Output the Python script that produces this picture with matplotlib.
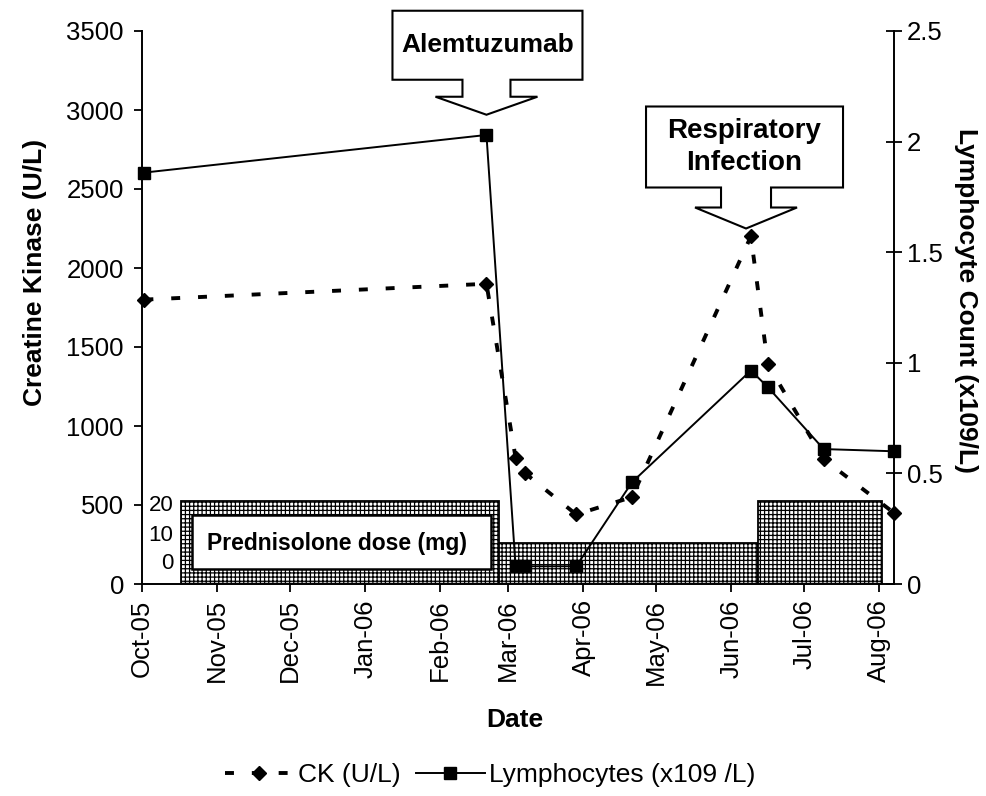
import matplotlib
matplotlib.use("Agg")
import matplotlib.pyplot as plt
import matplotlib.dates as mdates
import matplotlib.transforms as mtransforms
from matplotlib.patches import Polygon, Rectangle
from matplotlib.lines import Line2D
import numpy as np

plt.rcParams['font.family'] = ['Liberation Sans', 'DejaVu Sans']
plt.rcParams['hatch.linewidth'] = 0.9

# ---------------- data ----------------
dates = np.array(['2005-10-02', '2006-02-20', '2006-03-04', '2006-03-08', '2006-03-29',
                  '2006-04-21', '2006-06-09', '2006-06-16', '2006-07-09', '2006-08-07'],
                 dtype='datetime64[D]')
ck_values = [1800, 1900, 800, 700, 440, 550, 2200, 1390, 790, 450]
lymph_values = [1.86, 2.03, 0.08, 0.08, 0.08, 0.46, 0.965, 0.89, 0.61, 0.60]

pred_start = np.array(['2005-10-17', '2006-02-25', '2006-06-12'], dtype='datetime64[D]')
pred_end = np.array(['2006-02-25', '2006-06-12', '2006-08-02'], dtype='datetime64[D]')
pred_dose = [20, 10, 20]

event_labels = ['Alemtuzumab', 'Respiratory\nInfection']
event_dates = np.array(['2006-02-20', '2006-06-07'], dtype='datetime64[D]')
event_ck = [2970, 2250]

ck_ticks = list(range(0, 3501, 500))
lymph_ticks = [0, 0.5, 1, 1.5, 2, 2.5]
lymph_ticklabels = ['0', '0.5', '1', '1.5', '2', '2.5']
month_ticks = np.array(['2005-10-01', '2005-11-01', '2005-12-01', '2006-01-01', '2006-02-01',
                        '2006-03-01', '2006-04-01', '2006-05-01', '2006-06-01', '2006-07-01',
                        '2006-08-01'], dtype='datetime64[D]')
x_range = np.array(['2005-10-01', '2006-08-07'], dtype='datetime64[D]')

# ---------------- figure ----------------
W, H = 987, 796
fig = plt.figure(figsize=(W / 100, H / 100), dpi=100)
fig.patch.set_facecolor('white')

ax_l, ax_r, ax_t, ax_b = 142, 894, 31, 584
rect = [ax_l / W, (H - ax_b) / H, (ax_r - ax_l) / W, (ax_b - ax_t) / H]

xnum = mdates.date2num(dates)
xlim = mdates.date2num(x_range)

# Prednisolone inset (behind)
ax_p = fig.add_axes([ax_l / W, (H - ax_b) / H, (ax_r - ax_l) / W, 90 / H])
ax_p.set_zorder(0)
ax_p.patch.set_visible(False)
ps = mdates.date2num(pred_start)
pe = mdates.date2num(pred_end)
ax_p.bar(ps, pred_dose, width=pe - ps, align='edge', facecolor='white',
         edgecolor='black', hatch='++++', linewidth=1.3)
ax_p.plot([ps[0], pe[-1]], [0, 0], color='black', lw=2.5, solid_capstyle='butt')
ax_p.set_xlim(*xlim)
ax_p.set_ylim(0, 20 * 90 / 83)
ax_p.axis('off')
# white label box inside first bar
ax_p.add_patch(Rectangle((ps[0] + 4.5, 3.6), (pe[0] - ps[0]) - 7.5, 13.0,
                         facecolor='white', edgecolor='black', lw=1.8, zorder=3))
ax_p.text((ps[0] + pe[0]) / 2 - 1, 9.8, 'Prednisolone dose (mg)', ha='center', va='center',
          fontsize=16.5, fontweight='bold', zorder=4)
for lab, yy in zip(['20', '10', '0'], [19.0, 11.8, 5.0]):
    ax_p.text(ps[0] - 3, yy, lab, ha='right', va='center', fontsize=16)

# main axes
ax = fig.add_axes(rect)
ax.set_zorder(1)
ax.patch.set_visible(False)
ax.plot(xnum, ck_values, color='black', lw=2.8, linestyle=(0, (2.3, 4.6)),
        dash_capstyle='butt', marker='D', markersize=7.5, markerfacecolor='black',
        markeredgecolor='black', clip_on=False, zorder=3)
ax.set_xlim(*xlim)
ax.set_ylim(0, 3500)
ax.set_yticks(ck_ticks)
ax.set_xticks(mdates.date2num(month_ticks))
ax.xaxis.set_major_formatter(mdates.DateFormatter('%b-%y'))
ax.tick_params(axis='x', labelrotation=90, labelsize=18.5, length=6, width=1.3, pad=5)
ax.tick_params(axis='y', labelsize=18.5, length=6, width=1.3, pad=7)
ax.spines['top'].set_visible(False)
ax.spines['right'].set_visible(False)
for s in ['left', 'bottom']:
    ax.spines[s].set_linewidth(1.4)

ax2 = ax.twinx()
ax2.set_zorder(2)
ax2.patch.set_visible(False)
ax2.plot(xnum, lymph_values, color='black', lw=1.4, marker='s', markersize=9,
         markerfacecolor='black', markeredgecolor='black', clip_on=False, zorder=3)
ax2.set_ylim(0, 2.5)
ax2.set_yticks(lymph_ticks)
ax2.set_yticklabels(lymph_ticklabels)
ax2.tick_params(axis='y', labelsize=18.5, length=11, width=1.3, direction='inout', pad=4)
ax2.spines['top'].set_visible(False)
ax2.spines['left'].set_visible(False)
ax2.spines['bottom'].set_visible(False)
ax2.spines['right'].set_linewidth(1.4)

# axis labels
fig.text(35 / W, 1 - 272 / H, 'Creatine Kinase (U/L)', rotation=90, ha='center', va='center',
         fontsize=19, fontweight='bold')
fig.text(966 / W, 1 - 300 / H, 'Lymphocyte Count (x109/L)', rotation=270, ha='center',
         va='center', fontsize=19, fontweight='bold')
fig.text(515 / W, 1 - 720 / H, 'Date', ha='center', va='center', fontsize=19,
         fontweight='bold')

# callouts
callout_shapes = [
    dict(box=(-94, 96, 35, 104), stem=24, wing=51, neck=18, fs=19),
    dict(box=(-100, 97, 41, 122), stem=25, wing=51, neck=21, fs=20),
]
for lab, d, yv, shp in zip(event_labels, mdates.date2num(event_dates), event_ck, callout_shapes):
    tx, ty = ax.transData.transform((d, yv))
    tr = mtransforms.Affine2D().translate(tx, ty)
    x0, x1, y0, y1 = shp['box']
    s, w, n = shp['stem'], shp['wing'], shp['neck']
    verts = [(x0, y1), (x1, y1), (x1, y0), (s, y0), (s, n), (w, n), (0, 0),
             (-w, n), (-s, n), (-s, y0), (x0, y0)]
    fig.add_artist(Polygon(verts, closed=True, facecolor='white', edgecolor='black',
                           lw=1.5, transform=tr, zorder=10))
    fig.add_artist(plt.Text((x0 + x1) / 2, (y0 + y1) / 2, lab, ha='center', va='center',
                            fontsize=shp['fs'], fontweight='bold', linespacing=1.3,
                            transform=tr, zorder=11))

# legend
handles = [
    Line2D([], [], color='black', lw=2.8, linestyle=(0, (2.3, 4.6)), dash_capstyle='butt',
           marker='D', markersize=7.5),
    Line2D([], [], color='black', lw=1.4, marker='s', markersize=9),
]
fig.legend(handles, ['CK (U/L)', 'Lymphocytes (x109 /L)'], loc='center',
           bbox_to_anchor=(490 / W, 1 - 775 / H), ncol=2, frameon=False, fontsize=19,
           handlelength=2.6, handletextpad=0.15, columnspacing=0.6)

fig.savefig('out.png', dpi=100)
